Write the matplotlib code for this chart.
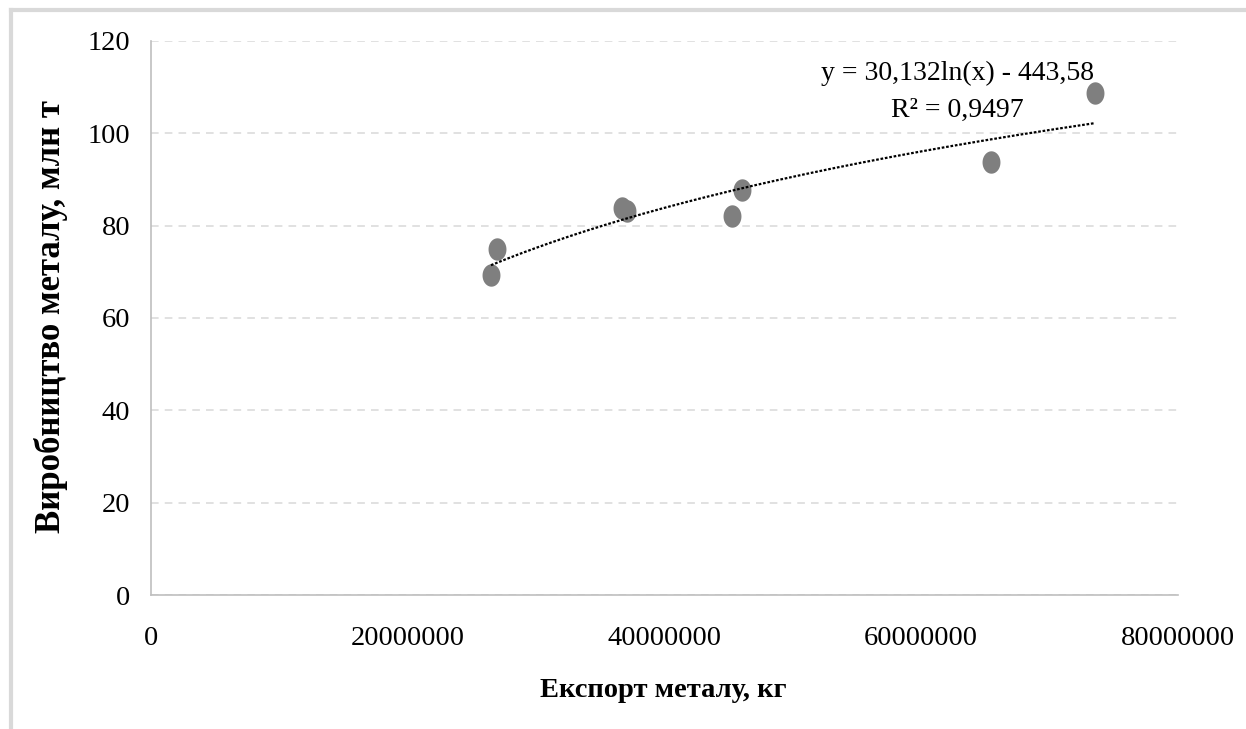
import numpy as np
import matplotlib.pyplot as plt
from matplotlib.path import Path
from matplotlib.lines import Line2D

# дані: експорт металу (кг) та виробництво металу (млн т)
export_kg = [26480000, 26950000, 36690000, 37070000, 45260000, 46040000, 65430000, 73530000]
production = [69.3, 74.9, 83.8, 83.2, 82.1, 87.7, 93.8, 108.7]

# логарифмічний тренд з підпису на графіку
coef_a, coef_b = 30.132, -443.58
eq_text = "y = 30,132ln(x) - 443,58\nR² = 0,9497"

x_ticks = [0, 20000000, 40000000, 60000000, 80000000]
y_ticks = [0, 20, 40, 60, 80, 100, 120]

plt.rcParams['font.family'] = ['Liberation Serif', 'DejaVu Serif']

fig = plt.figure(figsize=(12.46, 7.29), dpi=100)
ax = fig.add_axes([0.1212, 0.1838, 0.8242, 0.76])

# витягнутий по вертикалі маркер
t = np.linspace(0, 2 * np.pi, 60)
ell = Path(np.column_stack([0.8 * np.cos(t), np.sin(t)]), closed=True)

ax.scatter(export_kg, production, marker=ell, s=260, color='#7f7f7f', zorder=3, linewidths=0)

xs = np.linspace(min(export_kg), max(export_kg), 200)
ax.plot(xs, coef_a * np.log(xs) + coef_b, color='black', linestyle=(0, (1.2, 0.8)), lw=1.6, zorder=4)

ax.text(0.785, 0.908, eq_text, transform=ax.transAxes, ha='center', va='center',
        fontsize=20, linespacing=1.6)

ax.set_xlim(0, 80000000)
ax.set_ylim(0, 120)
ax.set_xticks(x_ticks)
ax.set_xticklabels([str(v) for v in x_ticks])
ax.set_yticks(y_ticks)
ax.tick_params(length=0, labelsize=20.5)
ax.tick_params(axis='x', pad=22)
ax.tick_params(axis='y', pad=15)

ax.grid(axis='y', color='#d9d9d9', linestyle=(0, (5, 4)), lw=1.1)
ax.set_axisbelow(True)
for s in ['top', 'right']:
    ax.spines[s].set_visible(False)
for s in ['left', 'bottom']:
    ax.spines[s].set_color('#bfbfbf')
    ax.spines[s].set_linewidth(1.2)

ax.set_xlabel('Експорт металу, кг', fontsize=20.5, fontweight='bold')
ax.xaxis.set_label_coords(0.4985, -0.15)
ax.set_ylabel('Виробництво металу, млн т', fontsize=25, fontweight='bold')
ax.yaxis.set_label_coords(-0.081, 0.503)

# рамка зверху і зліва
fig.add_artist(Line2D([0.0085, 1], [0.986, 0.986], color='#d9d9d9', lw=3, transform=fig.transFigure))
fig.add_artist(Line2D([0.0085, 0.0085], [0, 0.986], color='#d9d9d9', lw=3, transform=fig.transFigure))

fig.savefig('out.png', dpi=100)
